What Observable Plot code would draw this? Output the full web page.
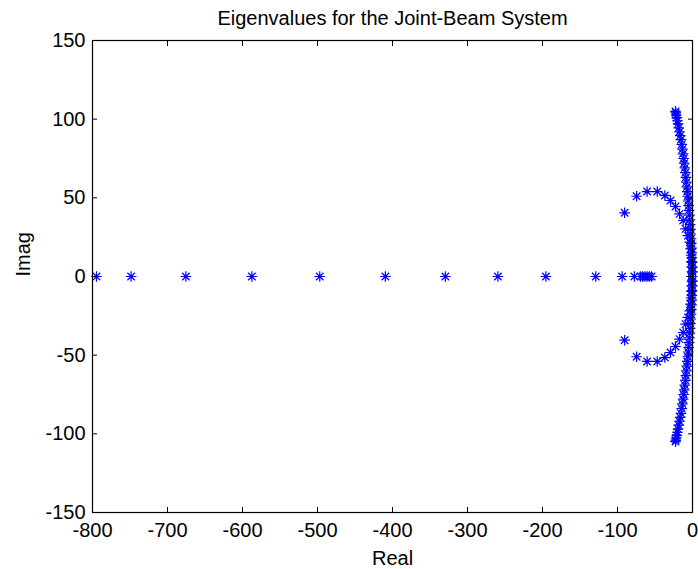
<!DOCTYPE html>
<html><head><meta charset="utf-8">
<script src="https://cdn.jsdelivr.net/npm/d3@7"></script>
<script src="https://cdn.jsdelivr.net/npm/@observablehq/plot@0.6"></script>
<style>body{margin:0;background:#fff;}</style>
</head><body><div id="chart"></div>
<script>
// Real eigenvalues (imag = 0)
const realAxisRe = [-794.7, -748.5, -675.5, -587.5, -497, -409.5, -329.5, -259.5, -195.5, -129, -93.8, -77.5, -69.5, -66.5, -63.5, -60.5, -57.5, -54.5, -1.5, -0.5];
// Long branch (upper half; conjugates mirrored below)
const branchRe = [-22.7, -22.3, -21.6, -20.9, -20.1, -19.3, -18.4, -17.4, -16.4, -15.4, -14.3, -13.5, -12.6, -11.8, -11.1, -10.3, -9.5, -8.8, -8.2, -7.5, -6.9, -6.3, -5.7, -5.1, -4.6, -4.1, -3.6, -3.2, -2.8, -2.4, -2.0, -1.7, -1.4, -1.1, -0.9, -0.7, -0.5, -0.3];
const branchIm = [105, 104, 102.5, 101, 99, 97, 94.5, 92, 89.5, 87, 84, 81, 78, 75, 72, 69, 66, 63, 60, 57, 54, 51, 48, 45, 42, 39, 36, 33, 30, 27, 24, 21, 18, 15, 12, 9, 6, 3];
// Arc branch (upper half)
const arcRe = [-90.5, -74.5, -60.5, -47, -36.9, -29.3, -22.7, -17.3, -12.4, -9.3, -6.2, -3.6, -2.6, -1.9, -1.3, -0.9, -0.5];
const arcIm = [40.5, 51, 54, 54, 51.5, 48.3, 44.5, 39.8, 35.6, 30.3, 26, 21.8, 17.5, 13.5, 9.5, 6, 3];

const xTicks = [-800, -700, -600, -500, -400, -300, -200, -100, 0];
const yTicks = [-150, -100, -50, 0, 50, 100, 150];
const titleText = "Eigenvalues for the Joint-Beam System";
const xLabel = "Real";
const yLabel = "Imag";

const points = [];
realAxisRe.forEach(r => points.push({re: r, im: 0}));
branchRe.forEach((r, i) => { points.push({re: r, im: branchIm[i]}); points.push({re: r, im: -branchIm[i]}); });
arcRe.forEach((r, i) => { points.push({re: r, im: arcIm[i]}); points.push({re: r, im: -arcIm[i]}); });

const matlabStar = {
  draw(ctx, size) {
    const r = Math.sqrt(size / Math.PI);
    const d = r * Math.SQRT1_2;
    ctx.moveTo(-r, 0); ctx.lineTo(r, 0);
    ctx.moveTo(0, -r); ctx.lineTo(0, r);
    ctx.moveTo(-d, -d); ctx.lineTo(d, d);
    ctx.moveTo(-d, d); ctx.lineTo(d, -d);
  }
};

const fmt = d => `${d}`;
const blank = () => "";

const chart = Plot.plot({
  width: 698, height: 569,
  marginLeft: 92, marginRight: 6, marginTop: 40, marginBottom: 57,
  x: {domain: [-800, 0]},
  y: {domain: [-150, 150]},
  style: {fontFamily: "'Liberation Sans', Arial, sans-serif", fontSize: "20px", color: "black", background: "white", overflow: "visible"},
  marks: [
    Plot.dot(points, {x: "re", y: "im", symbol: matlabStar, r: 5.3, stroke: "#0000ff", strokeWidth: 1.2}),
    Plot.frame({stroke: "black", strokeWidth: 1.2}),
    Plot.axisX(xTicks, {anchor: "bottom", tickSize: 0, tickPadding: 10, tickFormat: fmt, label: null, fontSize: 20}),
    Plot.axisX(xTicks, {anchor: "bottom", tickSize: -5, tickFormat: blank, label: null}),
    Plot.axisX(xTicks, {anchor: "top", tickSize: -5, tickFormat: blank, label: null}),
    Plot.axisY(yTicks, {anchor: "left", tickSize: 0, tickPadding: 7, tickFormat: fmt, label: null, fontSize: 20}),
    Plot.axisY(yTicks, {anchor: "left", tickSize: -5, tickFormat: blank, label: null}),
    Plot.axisY(yTicks, {anchor: "right", tickSize: -5, tickFormat: blank, label: null}),
    Plot.text([titleText], {text: d => d, frameAnchor: "top", dy: -22, lineAnchor: "middle", fontSize: 20}),
    Plot.text([xLabel], {text: d => d, frameAnchor: "bottom", dy: 46, lineAnchor: "middle", fontSize: 20}),
    Plot.text([yLabel], {text: d => d, frameAnchor: "left", dx: -69, rotate: -90, lineAnchor: "middle", fontSize: 20})
  ]
});
document.getElementById("chart").appendChild(chart);
</script>
</body></html>
